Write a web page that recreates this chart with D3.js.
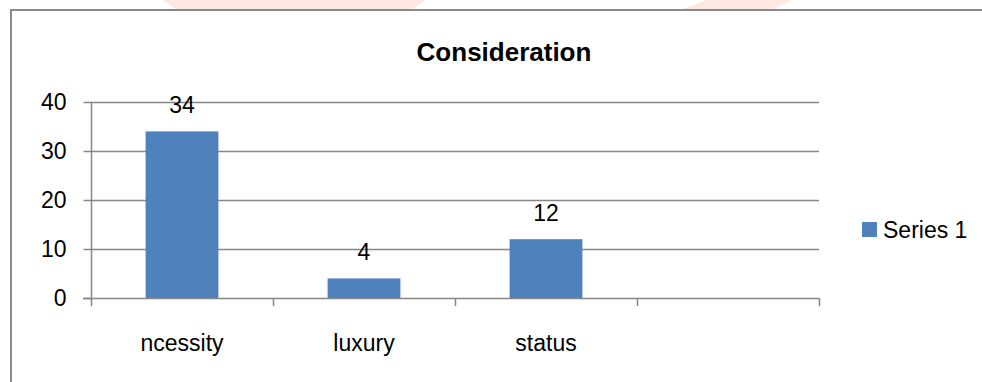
<!DOCTYPE html>
<html>
<head>
<meta charset="utf-8">
<script src="https://cdn.jsdelivr.net/npm/d3@7"></script>
<style>
  html, body { margin: 0; padding: 0; background: #fff; }
  svg { display: block; }
  text { font-family: "Liberation Sans", Arial, sans-serif; fill: #000; }
</style>
</head>
<body>
<svg id="chart" width="982" height="382"></svg>
<script>
// Chart data
const chartTitle = "Consideration";
const categories = ["ncessity", "luxury", "status", ""];
const values = [34, 4, 12, null];
const seriesName = "Series 1";
const yTicks = [0, 10, 20, 30, 40];

const W = 982, H = 382;
const labelSize = 23;
const svg = d3.select("#chart");

// faint header decoration above the frame
const deco = svg.append("g").attr("fill", "#fde9e1");
deco.append("polygon").attr("points", "163,0 425,0 412,10 177,10");
deco.append("polygon").attr("points", "707,0 792,0 772,10 680,10");

// chart frame (runs past the right and bottom edges)
svg.append("rect")
  .attr("x", 11).attr("y", 10)
  .attr("width", W + 20).attr("height", H + 20)
  .attr("fill", "#fff")
  .attr("stroke", "#8a8a8a").attr("stroke-width", 2);

const plot = { left: 91, right: 819, top: 102, bottom: 298 };

const x = d3.scaleBand()
  .domain(categories)
  .range([plot.left, plot.right])
  .padding(0);

const y = d3.scaleLinear()
  .domain([0, 40])
  .range([plot.bottom, plot.top]);

const gridColor = "#878787";

// horizontal gridlines
svg.append("g")
  .selectAll("line")
  .data(yTicks.filter(d => d > 0))
  .join("line")
  .attr("x1", plot.left).attr("x2", plot.right)
  .attr("y1", d => Math.round(y(d)) + 0.5).attr("y2", d => Math.round(y(d)) + 0.5)
  .attr("stroke", gridColor).attr("stroke-width", 1.5);

// y axis
const yAxis = d3.axisLeft(y).tickValues(yTicks).tickSize(8).tickPadding(17)
  .tickFormat(d3.format("d"));
const gy = svg.append("g")
  .attr("transform", `translate(${plot.left + 0.5},0)`)
  .call(yAxis);
gy.select(".domain").remove();
gy.selectAll(".tick line").attr("stroke", gridColor).attr("stroke-width", 1.5);
gy.selectAll(".tick text")
  .attr("font-size", labelSize)
  .attr("font-family", "Liberation Sans, Arial, sans-serif")
  .attr("fill", "#000");
gy.append("line")
  .attr("x1", 0).attr("x2", 0)
  .attr("y1", plot.top).attr("y2", plot.bottom)
  .attr("stroke", gridColor).attr("stroke-width", 1.5);

// bars
const barW = x.bandwidth() * 0.4;
const data = categories.map((c, i) => ({ c, v: values[i] })).filter(d => d.v != null);

svg.append("g")
  .selectAll("rect")
  .data(data)
  .join("rect")
  .attr("x", d => x(d.c) + (x.bandwidth() - barW) / 2)
  .attr("y", d => y(d.v))
  .attr("width", barW)
  .attr("height", d => y(0) - y(d.v))
  .attr("fill", "#4f81bd");

// value labels
svg.append("g")
  .selectAll("text")
  .data(data)
  .join("text")
  .attr("x", d => x(d.c) + x.bandwidth() / 2)
  .attr("y", d => y(d.v) - 18)
  .attr("text-anchor", "middle")
  .attr("font-size", labelSize)
  .text(d => d.v);

// x axis: baseline with boundary ticks
const xAxisG = svg.append("g");
xAxisG.append("line")
  .attr("x1", plot.left - 8).attr("x2", plot.right)
  .attr("y1", plot.bottom + 0.5).attr("y2", plot.bottom + 0.5)
  .attr("stroke", gridColor).attr("stroke-width", 1.5);
const bounds = categories.map(c => x(c)).concat([x.range()[1]]);
xAxisG.selectAll("line.tk")
  .data(bounds)
  .join("line")
  .attr("class", "tk")
  .attr("x1", d => Math.round(d) + 0.5).attr("x2", d => Math.round(d) + 0.5)
  .attr("y1", plot.bottom).attr("y2", plot.bottom + 8)
  .attr("stroke", gridColor).attr("stroke-width", 1.5);
xAxisG.selectAll("text")
  .data(categories)
  .join("text")
  .attr("x", d => x(d) + x.bandwidth() / 2)
  .attr("y", 351)
  .attr("text-anchor", "middle")
  .attr("font-size", labelSize)
  .text(d => d);

// title
svg.append("text")
  .attr("x", 504).attr("y", 61)
  .attr("text-anchor", "middle")
  .attr("font-size", 26)
  .attr("font-weight", "bold")
  .text(chartTitle);

// legend
const lg = svg.append("g");
lg.append("rect")
  .attr("x", 862).attr("y", 222).attr("width", 15).attr("height", 15)
  .attr("fill", "#4f81bd");
lg.append("text")
  .attr("x", 883).attr("y", 238)
  .attr("font-size", labelSize)
  .text(seriesName);
</script>
</body>
</html>
